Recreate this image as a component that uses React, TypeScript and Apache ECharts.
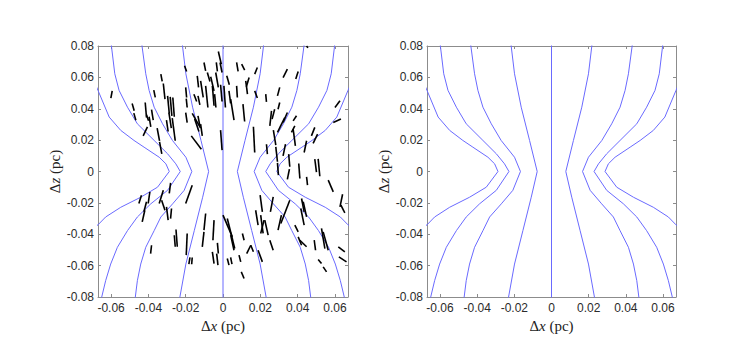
import React, { useEffect, useRef } from "react";
import * as echarts from "echarts";

// ---- data ----
const xTicks = [-0.06, -0.04, -0.02, 0, 0.02, 0.04, 0.06];
const zTicks = [-0.08, -0.06, -0.04, -0.02, 0, 0.02, 0.04, 0.06, 0.08];
const xRange = [-0.067, 0.067];
const zRange = [-0.08, 0.08];

// hourglass field lines, right-hand side [x, z]; left side is the mirror image
const fieldLine0 = [[0, -0.085], [0, 0.085]];
const fieldLine1 = [[0.0235, -0.085], [0.0231, -0.08], [0.0199, -0.059], [0.0154, -0.0377], [0.0109, -0.0164], [0.0077, 0], [0.0118, 0.0198], [0.0163, 0.041], [0.0199, 0.0623], [0.0217, 0.08], [0.0221, 0.085]];
const fieldLine2 = [[0.0475, -0.085], [0.047, -0.08], [0.0459, -0.0696], [0.0441, -0.059], [0.0414, -0.0483], [0.0369, -0.0377], [0.0333, -0.029], [0.027, -0.0206], [0.0208, -0.012], [0.0167, 0], [0.0199, 0.0091], [0.0271, 0.0198], [0.0324, 0.0304], [0.0369, 0.041], [0.0396, 0.0517], [0.0414, 0.0623], [0.0434, 0.08], [0.0438, 0.085]];
const fieldLine3 = [[0.0655, -0.085], [0.065, -0.08], [0.0629, -0.0696], [0.0602, -0.059], [0.0566, -0.0483], [0.0512, -0.0377], [0.0459, -0.029], [0.0387, -0.0206], [0.0297, -0.012], [0.0229, 0], [0.0253, 0.0049], [0.0297, 0.0113], [0.0369, 0.0198], [0.0459, 0.0304], [0.0512, 0.041], [0.0557, 0.0517], [0.058, 0.0623], [0.0598, 0.08], [0.0602, 0.085]];
const fieldLine4 = [[0.071, -0.037], [0.067, -0.034], [0.0629, -0.029], [0.0548, -0.0228], [0.0441, -0.0164], [0.0351, -0.01], [0.0288, 0], [0.0306, 0.0049], [0.0342, 0.0091], [0.0423, 0.0155], [0.0477, 0.0198], [0.0548, 0.0262], [0.061, 0.0347], [0.067, 0.0517], [0.07, 0.06]];

// polarization vectors [x1, z1, x2, z2] (pc)
const vectors = [
  [-0.0594, 0.0514, -0.0601, 0.0468], [-0.0487, 0.0434, -0.0476, 0.0387], [-0.0478, 0.0372, -0.0467, 0.0327],
  [-0.0417, 0.044, -0.041, 0.0344], [-0.041, 0.0361, -0.0399, 0.0323], [-0.0383, 0.0395, -0.0374, 0.0327],
  [-0.0396, 0.0349, -0.0387, 0.0285], [-0.0405, 0.0285, -0.0428, 0.0227], [-0.0371, 0.0519, -0.0363, 0.0472],
  [-0.0333, 0.0621, -0.0326, 0.0574], [-0.032, 0.0561, -0.0311, 0.0461], [-0.0353, 0.0276, -0.034, 0.0195],
  [-0.034, 0.0189, -0.0328, 0.0113], [-0.0297, 0.0482, -0.0288, 0.037], [-0.0283, 0.0476, -0.0274, 0.0355],
  [-0.0269, 0.0472, -0.0261, 0.0349], [-0.029, 0.0376, -0.0277, 0.0276], [-0.0272, 0.034, -0.0256, 0.0196],
  [-0.0303, 0.0327, -0.0294, 0.0255],
  [-0.0206, 0.0674, -0.0195, 0.0638], [-0.0102, 0.0695, -0.0093, 0.0642], [-0.0025, 0.0765, -0.0009, 0.0684],
  [-0.0016, 0.0695, -0.0005, 0.0631], [-0.0036, 0.0695, -0.003, 0.0638], [0.0073, 0.0695, 0.0081, 0.0638],
  [0.01, 0.0684, 0.0116, 0.0646], [0.0184, 0.0663, 0.017, 0.0621], [-0.0138, 0.061, -0.0131, 0.0536],
  [-0.0084, 0.0631, -0.007, 0.0574], [-0.0066, 0.0604, -0.0048, 0.0514], [-0.0039, 0.0631, -0.0025, 0.0536],
  [0.002, 0.061, 0.0034, 0.0553], [0.014, 0.0599, 0.0125, 0.054], [-0.02, 0.0536, -0.0195, 0.0472],
  [-0.0197, 0.0465, -0.0192, 0.0408], [-0.012, 0.0578, -0.0106, 0.0472], [-0.0093, 0.0546, -0.0081, 0.0408],
  [-0.0057, 0.0546, -0.0048, 0.0419], [-0.0045, 0.0493, -0.0038, 0.0408], [-0.0013, 0.0553, -0.0005, 0.0446],
  [0.0005, 0.0546, 0.0013, 0.0408], [0.0032, 0.0514, 0.0041, 0.0434], [0.0041, 0.0461, 0.0059, 0.0327],
  [0.0073, 0.0546, 0.0077, 0.0472], [0.0107, 0.0429, 0.0116, 0.0319], [0.0122, 0.0578, 0.0131, 0.0493],
  [0.017, 0.0514, 0.0184, 0.0468], [-0.0156, 0.0493, -0.0141, 0.0446], [-0.0134, 0.0482, -0.0124, 0.0425],
  [-0.02, 0.0376, -0.0192, 0.0312], [-0.0165, 0.037, -0.012, 0.0276], [-0.0152, 0.0334, -0.0129, 0.0255],
  [-0.0134, 0.0355, -0.0124, 0.0291], [-0.012, 0.0302, -0.0111, 0.0227], [-0.017, 0.0227, -0.0116, 0.0142],
  [-0.0013, 0.0264, -0.0005, 0.0136], [0.0163, 0.0285, 0.017, 0.0121], [0.0229, 0.0493, 0.0233, 0.0444],
  [0.0448, 0.08, 0.0455, 0.0788], [0.0345, 0.0652, 0.0322, 0.0599], [0.0403, 0.0638, 0.039, 0.0589],
  [0.0304, 0.0536, 0.0292, 0.0482], [0.0304, 0.044, 0.0295, 0.0397], [0.026, 0.0387, 0.0251, 0.0291],
  [0.0277, 0.0397, 0.0263, 0.0334], [0.0345, 0.0376, 0.0322, 0.0312], [0.0394, 0.0355, 0.0376, 0.0323],
  [0.0331, 0.0344, 0.0292, 0.0249], [0.0385, 0.0291, 0.0367, 0.0249], [0.0376, 0.027, 0.0388, 0.0164],
  [0.0448, 0.0196, 0.0435, 0.0121], [0.0492, 0.0281, 0.0474, 0.0227], [0.0507, 0.0238, 0.0483, 0.0179],
  [0.0627, 0.0451, 0.06, 0.0408], [0.0632, 0.0334, 0.0591, 0.0312], [0.027, 0.0264, 0.0283, 0.0168],
  [0.0283, 0.0157, 0.0292, 0.0062], [0.0292, 0.0055, 0.0297, -0.0023], [0.0352, 0.0111, 0.0358, 0.003],
  [0.0335, 0.0174, 0.0322, 0.01], [0.0492, 0.0079, 0.0501, -0.0004], [0.051, 0.008, 0.0519, -0.003],
  [0.0233, 0.0174, 0.0238, 0.0111],
  [0.0356, 0.0015, 0.0345, -0.005], [0.0406, 0.0051, 0.0412, -0.0045], [0.0448, -0.0034, 0.0453, -0.0087],
  [0.0564, -0.0055, 0.0591, -0.013], [0.0269, -0.0162, 0.0254, -0.0257], [0.0358, -0.0183, 0.031, -0.0332],
  [0.0421, -0.0172, 0.0435, -0.0257], [0.043, -0.0193, 0.0448, -0.0289], [0.0417, -0.0236, 0.0435, -0.0342],
  [0.0313, -0.0278, 0.0295, -0.0374], [0.0224, -0.031, 0.0242, -0.0406], [0.0251, -0.0438, 0.0269, -0.0502],
  [0.0385, -0.0342, 0.0403, -0.0385], [0.0403, -0.0417, 0.0421, -0.047], [0.0412, -0.0438, 0.0448, -0.048],
  [0.0489, -0.0438, 0.0496, -0.0502], [0.0528, -0.0363, 0.0546, -0.0491], [0.0537, -0.0385, 0.0564, -0.0502],
  [0.0618, -0.048, 0.0653, -0.0512], [0.0621, -0.0544, 0.0662, -0.0576], [0.051, -0.0561, 0.0528, -0.0587],
  [0.0537, -0.0608, 0.0555, -0.064], [0.0641, -0.0145, 0.0627, -0.0225], [0.0632, -0.0215, 0.0653, -0.0264],
  [-0.0281, -0.0072, -0.0288, -0.014], [-0.0392, -0.013, -0.0401, -0.0204], [-0.0437, -0.0151, -0.0451, -0.0204],
  [-0.041, -0.0193, -0.0424, -0.0257], [-0.0419, -0.0247, -0.0433, -0.0321], [-0.032, -0.0119, -0.0342, -0.0204],
  [-0.0329, -0.0183, -0.0311, -0.0247], [-0.0303, -0.0225, -0.0294, -0.031], [-0.0276, -0.0236, -0.0281, -0.03],
  [-0.0252, -0.037, -0.0245, -0.048], [-0.0261, -0.0406, -0.0256, -0.048], [-0.0383, -0.047, -0.0388, -0.0523],
  [-0.0165, -0.0087, -0.02, -0.0204], [-0.0093, -0.0268, -0.0102, -0.0374], [-0.0048, -0.031, -0.0054, -0.0438],
  [-0.0102, -0.0385, -0.0111, -0.048], [-0.0192, -0.0395, -0.0197, -0.0533], [-0.0177, -0.0548, -0.0183, -0.0591],
  [-0.0165, -0.0548, -0.0168, -0.0591], [-0.0057, -0.0512, -0.0048, -0.0587], [-0.0034, -0.0523, -0.0027, -0.0597],
  [-0.003, -0.0455, -0.0025, -0.0523], [0.0, -0.0278, 0.005, -0.0417], [0.0023, -0.03, 0.0063, -0.0491],
  [0.0041, -0.0406, 0.0059, -0.0502], [0.0023, -0.0555, 0.0032, -0.0597], [0.0041, -0.0548, 0.0048, -0.0591],
  [0.0086, -0.0533, 0.0095, -0.0576], [0.0098, -0.064, 0.0113, -0.0682], [0.0127, -0.0523, 0.0149, -0.047],
  [0.0149, -0.047, 0.0163, -0.0512], [0.0104, -0.0395, 0.0113, -0.0438], [0.0199, -0.0151, 0.0211, -0.0257],
  [0.0175, -0.0247, 0.0188, -0.0342], [0.0202, -0.0278, 0.0215, -0.0395], [0.022, -0.031, 0.0202, -0.0395],
  [0.0188, -0.0502, 0.0211, -0.0576],
];

const FIELD_COLOR = "#6a6aff";
const AXIS_COLOR = "#8c8c8c";
const LABEL_COLOR = "#2b2b2b";

const fmt = (v: number) => (Math.abs(v) < 1e-9 ? "0" : v.toFixed(2));

const nameRich = {
  r: { fontFamily: "Liberation Serif", fontSize: 15, color: "#222" },
  i: { fontFamily: "Liberation Serif", fontStyle: "italic", fontSize: 15, color: "#222" },
};

function xAxes(gridIndex: number) {
  const common = {
    type: "value",
    gridIndex,
    min: xRange[0],
    max: xRange[1],
    splitLine: { show: false },
    axisLine: { show: true, onZero: false, lineStyle: { color: AXIS_COLOR, width: 1 } },
    axisTick: { show: true, inside: true, length: 3, customValues: xTicks, lineStyle: { color: AXIS_COLOR } },
  };
  return [
    {
      ...common,
      position: "bottom",
      axisLabel: {
        show: true, customValues: xTicks, formatter: fmt, color: LABEL_COLOR,
        fontFamily: "Liberation Sans", fontSize: 12, margin: 5,
      },
      name: "{r|Δ}{i|x}{r| (pc)}",
      nameLocation: "middle",
      nameGap: 18,
      nameTextStyle: { rich: nameRich },
    },
    { ...common, position: "top", axisLabel: { show: false } },
  ];
}

function yAxes(gridIndex: number) {
  const common = {
    type: "value",
    gridIndex,
    min: zRange[0],
    max: zRange[1],
    splitLine: { show: false },
    axisLine: { show: true, onZero: false, lineStyle: { color: AXIS_COLOR, width: 1 } },
    axisTick: { show: true, inside: true, length: 3, customValues: zTicks, lineStyle: { color: AXIS_COLOR } },
  };
  return [
    {
      ...common,
      position: "left",
      axisLabel: {
        show: true, customValues: zTicks, formatter: fmt, color: LABEL_COLOR,
        fontFamily: "Liberation Sans", fontSize: 12, margin: 4,
      },
      name: "{r|Δ}{i|z}{r| (pc)}",
      nameLocation: "middle",
      nameRotate: 90,
      nameGap: 31,
      nameTextStyle: { rich: nameRich },
    },
    { ...common, position: "right", axisLabel: { show: false } },
  ];
}

function fieldSeries(xAxisIndex: number, yAxisIndex: number) {
  const right = [fieldLine1, fieldLine2, fieldLine3, fieldLine4];
  const all = [fieldLine0, ...right, ...right.map((l) => l.map(([x, z]) => [-x, z]))];
  return all.map((data) => ({
    type: "line",
    xAxisIndex,
    yAxisIndex,
    data,
    showSymbol: false,
    symbol: "none",
    clip: true,
    silent: true,
    lineStyle: { color: FIELD_COLOR, width: 1 },
    z: 2,
  }));
}

export default function App() {
  const ref = useRef<HTMLDivElement>(null);
  useEffect(() => {
    if (!ref.current) return;
    const chart = echarts.init(ref.current, null, { renderer: "svg" });
    const option = {
      animation: false,
      backgroundColor: "#ffffff",
      grid: [
        { left: 98, top: 46, width: 250, height: 251 },
        { left: 427, top: 46, width: 249, height: 251 },
      ],
      xAxis: [...xAxes(0), ...xAxes(1)],
      yAxis: [...yAxes(0), ...yAxes(1)],
      series: [
        ...fieldSeries(0, 0),
        {
          type: "lines",
          coordinateSystem: "cartesian2d",
          xAxisIndex: 0,
          yAxisIndex: 0,
          silent: true,
          data: vectors.map((v) => ({ coords: [[v[0], v[1]], [v[2], v[3]]] })),
          lineStyle: { color: "#000000", width: 1.6, opacity: 1, curveness: 0 },
          z: 3,
        },
        ...fieldSeries(2, 2),
      ],
    };
    chart.setOption(option as any);
    return () => chart.dispose();
  }, []);
  return (
    <div
      ref={ref}
      style={{ position: "fixed", left: 0, top: 0, width: 747, height: 355, background: "#fff" }}
    />
  );
}
